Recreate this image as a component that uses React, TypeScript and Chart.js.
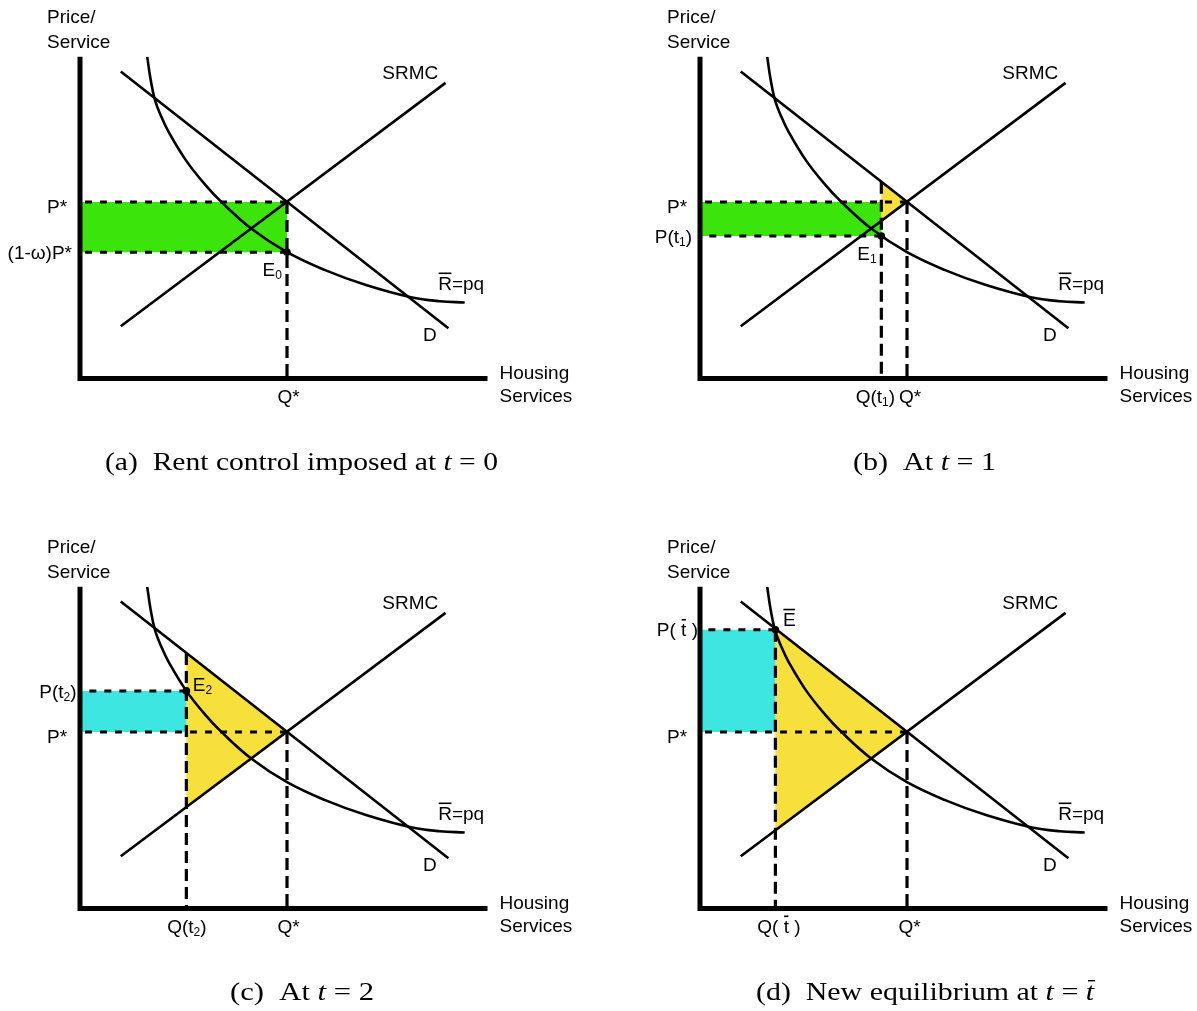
import React, { useEffect, useRef } from 'react';
import { Chart, registerables } from 'chart.js';

Chart.register(...registerables);

type Pt = { x: number; y: number };
type Part = { t: string; sub?: boolean; bar?: boolean; italic?: boolean };

// Demand (D) and short-run marginal cost (SRMC) lines, given by their end points
const demandLine: Pt[] = [
  { x: 1.0, y: 7.63 },
  { x: 9.04, y: 1.25 },
];
const srmcLine: Pt[] = [
  { x: 1.0, y: 1.3 },
  { x: 8.97, y: 7.35 },
];
// Constant-revenue curve  R̄ = pq
const revenueCurve: Pt[] = [
  { x: 1.65, y: 8.0 },
  { x: 1.73, y: 7.45 },
  { x: 1.84, y: 6.92 },
  { x: 2.0, y: 6.5 },
  { x: 2.17, y: 6.14 },
  { x: 2.61, y: 5.41 },
  { x: 3.07, y: 4.82 },
  { x: 3.47, y: 4.39 },
  { x: 4.2, y: 3.73 },
  { x: 5.08, y: 3.14 },
  { x: 6.0, y: 2.7 },
  { x: 7.0, y: 2.33 },
  { x: 8.12, y: 2.02 },
  { x: 8.83, y: 1.92 },
  { x: 9.44, y: 1.89 },
];

// Market equilibrium and the controlled price (1-ω)P*
const qStar = 5.08;
const pStar = 4.39;
const pControlled = 3.14;
// Adjustment path
const qT1 = 4.45;
const pT1 = 3.54;
const qT2 = 2.61;
const pT2 = 5.41;
const qBar = 1.85;
const pBar = 6.93;

const xMax = 10;
const yMax = 8;

const GREEN = '#3be40b';
const CYAN = '#3ee6e2';
const YELLOW = '#f7e03b';

const SANS = '"Liberation Sans", Arial, Helvetica, sans-serif';
const SERIF = '"Liberation Serif", "Times New Roman", serif';

// plot frame inside each panel canvas
const FRAME = { left: 80, top: 56.7, right: 487.5, bottom: 378.5 };
const CAPTION_BASELINE = 470;

interface TextStyle {
  size: number;
  family: string;
  subSize: number;
  subDrop: number;
  barRise: number;
  barW: number;
}
const SANS_STYLE: TextStyle = { size: 19, family: SANS, subSize: 12, subDrop: 3, barRise: 17.5, barW: 1.6 };
const SERIF_STYLE: TextStyle = { size: 26, family: SERIF, subSize: 17, subDrop: 4, barRise: 20, barW: 1.4 };

interface Shade { pts: Pt[]; color: string }
interface Label { parts: Part[]; at: Pt; dx: number; dy: number; align: 'left' | 'right' | 'center' }
interface PanelCfg {
  key: string;
  left: number;
  top: number;
  w: number;
  h: number;
  shades: Shade[];
  hDash: Pt[];
  vDash: Pt[];
  dot: Pt;
  labels: Label[];
  caption: Part[];
  capX: number;
  capW: number;
}

const lineAt = (seg: Pt[], q: number) =>
  seg[0].y + ((seg[1].y - seg[0].y) * (q - seg[0].x)) / (seg[1].x - seg[0].x);

const rect = (q: number, pLow: number, pHigh: number): Pt[] => [
  { x: 0, y: pLow },
  { x: q, y: pLow },
  { x: q, y: pHigh },
  { x: 0, y: pHigh },
];

// area between D and SRMC from quantity q up to the equilibrium
const wedge = (q: number): Pt[] => [
  { x: q, y: lineAt(demandLine, q) },
  { x: qStar, y: pStar },
  { x: q, y: lineAt(srmcLine, q) },
];

const commonLabels: Label[] = [
  { parts: [{ t: 'Price/' }], at: { x: 0, y: yMax }, dx: -33, dy: -33.4, align: 'left' },
  { parts: [{ t: 'Service' }], at: { x: 0, y: yMax }, dx: -33, dy: -9, align: 'left' },
  { parts: [{ t: 'SRMC' }], at: { x: 7.42, y: 7.45 }, dx: 0, dy: 0, align: 'left' },
  { parts: [{ t: 'R', bar: true }, { t: '=pq' }], at: { x: 8.79, y: 2.2 }, dx: 0, dy: 0, align: 'left' },
  { parts: [{ t: 'D' }], at: { x: 8.42, y: 0.93 }, dx: 0, dy: 0, align: 'left' },
  { parts: [{ t: 'Housing' }], at: { x: xMax, y: 0 }, dx: 12, dy: 0.5, align: 'left' },
  { parts: [{ t: 'Services' }], at: { x: xMax, y: 0 }, dx: 12, dy: 23.5, align: 'left' },
];

const pStarLabel: Label = { parts: [{ t: 'P*' }], at: { x: 0, y: pStar }, dx: -33, dy: 10.8, align: 'left' };
const qStarLabel = (dx: number): Label => ({ parts: [{ t: 'Q*' }], at: { x: qStar, y: 0 }, dx, dy: 24.5, align: 'center' });

const panels: PanelCfg[] = [
  {
    key: 'a',
    left: 0,
    top: 0,
    w: 620,
    h: 530,
    shades: [{ pts: rect(qStar, pControlled, pStar), color: GREEN }],
    hDash: [{ x: qStar, y: pStar }, { x: qStar, y: pControlled }],
    vDash: [{ x: qStar, y: pStar }],
    dot: { x: qStar, y: pControlled },
    labels: [
      pStarLabel,
      { parts: [{ t: '(1-ω)P*' }], at: { x: 0, y: pControlled }, dx: -8, dy: 6.5, align: 'right' },
      qStarLabel(1.5),
      { parts: [{ t: 'E' }, { t: '0', sub: true }], at: { x: qStar, y: pControlled }, dx: -24.5, dy: 24, align: 'left' },
    ],
    caption: [{ t: '(a)\u2002Rent control imposed at ' }, { t: 't', italic: true }, { t: ' = 0' }],
    capX: 301.5,
    capW: 393,
  },
  {
    key: 'b',
    left: 620,
    top: 0,
    w: 577,
    h: 530,
    shades: [
      { pts: rect(qT1, pT1, pStar), color: GREEN },
      { pts: wedge(qT1), color: YELLOW },
    ],
    hDash: [{ x: qStar, y: pStar }, { x: qT1, y: pT1 }],
    vDash: [{ x: qT1, y: lineAt(demandLine, qT1) }, { x: qStar, y: pStar }],
    dot: { x: qT1, y: pT1 },
    labels: [
      pStarLabel,
      { parts: [{ t: 'P(t' }, { t: '1', sub: true }, { t: ')' }], at: { x: 0, y: pT1 }, dx: -8, dy: 7, align: 'right' },
      { parts: [{ t: 'Q(t' }, { t: '1', sub: true }, { t: ')' }], at: { x: qT1, y: 0 }, dx: -6, dy: 24.5, align: 'center' },
      qStarLabel(3),
      { parts: [{ t: 'E' }, { t: '1', sub: true }], at: { x: qT1, y: pT1 }, dx: -24, dy: 24, align: 'left' },
    ],
    caption: [{ t: '(b)\u2002At ' }, { t: 't', italic: true }, { t: ' = 1' }],
    capX: 304.5,
    capW: 143,
  },
  {
    key: 'c',
    left: 0,
    top: 530,
    w: 620,
    h: 481,
    shades: [
      { pts: rect(qT2, pStar, pT2), color: CYAN },
      { pts: wedge(qT2), color: YELLOW },
    ],
    hDash: [{ x: qT2, y: pT2 }, { x: qStar, y: pStar }],
    vDash: [{ x: qT2, y: lineAt(demandLine, qT2) }, { x: qStar, y: pStar }],
    dot: { x: qT2, y: pT2 },
    labels: [
      { parts: [{ t: 'P(t' }, { t: '2', sub: true }, { t: ')' }], at: { x: 0, y: pT2 }, dx: -3.5, dy: 6.7, align: 'right' },
      { ...pStarLabel, dy: 11 },
      { parts: [{ t: 'Q(t' }, { t: '2', sub: true }, { t: ')' }], at: { x: qT2, y: 0 }, dx: 0.5, dy: 24.5, align: 'center' },
      qStarLabel(1.5),
      { parts: [{ t: 'E' }, { t: '2', sub: true }], at: { x: qT2, y: pT2 }, dx: 6.5, dy: 0, align: 'left' },
    ],
    caption: [{ t: '(c)\u2002At ' }, { t: 't', italic: true }, { t: ' = 2' }],
    capX: 302,
    capW: 144,
  },
  {
    key: 'd',
    left: 620,
    top: 530,
    w: 577,
    h: 481,
    shades: [
      { pts: rect(qBar, pStar, pBar), color: CYAN },
      { pts: wedge(qBar), color: YELLOW },
    ],
    hDash: [{ x: qBar, y: pBar }, { x: qStar, y: pStar }],
    vDash: [{ x: qBar, y: pBar }, { x: qStar, y: pStar }],
    dot: { x: qBar, y: pBar },
    labels: [
      { parts: [{ t: 'P( ' }, { t: 't', bar: true }, { t: ' )' }], at: { x: 0, y: pBar }, dx: -2, dy: 6.7, align: 'right' },
      { ...pStarLabel, dy: 11 },
      { parts: [{ t: 'Q( ' }, { t: 't', bar: true }, { t: ' )' }], at: { x: qBar, y: 0 }, dx: 3.5, dy: 24.5, align: 'center' },
      qStarLabel(2.5),
      { parts: [{ t: 'E', bar: true }], at: { x: qBar, y: pBar }, dx: 7.5, dy: -3.5, align: 'left' },
    ],
    caption: [
      { t: '(d)\u2002New equilibrium at ' },
      { t: 't', italic: true },
      { t: ' = ' },
      { t: 't', italic: true, bar: true },
    ],
    capX: 305,
    capW: 338,
  },
];

function partFont(p: Part, s: TextStyle) {
  return `${p.italic ? 'italic ' : ''}${p.sub ? s.subSize : s.size}px ${s.family}`;
}

function measureRich(ctx: CanvasRenderingContext2D, parts: Part[], s: TextStyle) {
  let w = 0;
  for (const p of parts) {
    ctx.font = partFont(p, s);
    w += ctx.measureText(p.t).width;
  }
  return w;
}

function drawRich(
  ctx: CanvasRenderingContext2D,
  parts: Part[],
  x: number,
  y: number,
  align: 'left' | 'right' | 'center',
  s: TextStyle,
) {
  const w = measureRich(ctx, parts, s);
  let cx = align === 'left' ? x : align === 'right' ? x - w : x - w / 2;
  ctx.textAlign = 'left';
  ctx.textBaseline = 'alphabetic';
  for (const p of parts) {
    ctx.font = partFont(p, s);
    const pw = ctx.measureText(p.t).width;
    ctx.fillText(p.t, cx, p.sub ? y + s.subDrop : y);
    if (p.bar) {
      const shift = p.italic ? 1.5 : 0;
      ctx.fillRect(cx + 0.5 + shift, y - s.barRise, pw - 1, s.barW);
    }
    cx += pw;
  }
}

function buildChart(canvas: HTMLCanvasElement, cfg: PanelCfg) {
  const shadeSets = cfg.shades.map((s) => ({
    data: s.pts,
    fill: 'shape' as const,
    backgroundColor: s.color,
    borderColor: 'rgba(0,0,0,0)',
    borderWidth: 0,
    pointRadius: 0,
    order: 4,
  }));
  const curve = (data: Pt[], extra: object = {}) => ({
    data,
    borderColor: '#000',
    borderWidth: 2.6,
    pointRadius: 0,
    fill: false,
    order: 3,
    ...extra,
  });
  const hDashSets = cfg.hDash.map((p) => ({
    data: [p, { x: 0, y: p.y }],
    borderColor: '#000',
    borderWidth: 3,
    borderDash: [7, 8],
    borderCapStyle: 'butt' as const,
    pointRadius: 0,
    fill: false,
    order: 2,
  }));
  const vDashSets = cfg.vDash.map((p) => ({
    data: [p, { x: p.x, y: 0 }],
    borderColor: '#000',
    borderWidth: 3.2,
    borderDash: [12, 6],
    borderCapStyle: 'butt' as const,
    pointRadius: 0,
    fill: false,
    order: 2,
  }));
  const dotSet = {
    data: [cfg.dot],
    showLine: false,
    pointRadius: 3.8,
    pointBackgroundColor: '#000',
    pointBorderWidth: 0,
    fill: false,
    order: 1,
  };

  const decor = {
    id: 'decor-' + cfg.key,
    afterDatasetsDraw(chart: Chart) {
      const { ctx, chartArea: a } = chart;
      ctx.save();
      ctx.strokeStyle = '#000';
      ctx.lineWidth = 5;
      ctx.lineCap = 'butt';
      ctx.setLineDash([]);
      ctx.beginPath();
      ctx.moveTo(a.left, a.top);
      ctx.lineTo(a.left, a.bottom + 2.5);
      ctx.moveTo(a.left - 2.5, a.bottom);
      ctx.lineTo(a.right, a.bottom);
      ctx.stroke();
      ctx.restore();
    },
    afterDraw(chart: Chart) {
      const { ctx } = chart;
      const xs = chart.scales.x;
      const ys = chart.scales.y;
      ctx.save();
      ctx.fillStyle = '#000';
      for (const l of [...commonLabels, ...cfg.labels]) {
        drawRich(ctx, l.parts, xs.getPixelForValue(l.at.x) + l.dx, ys.getPixelForValue(l.at.y) + l.dy, l.align, SANS_STYLE);
      }
      // sub-figure caption
      const natural = measureRich(ctx, cfg.caption, SERIF_STYLE);
      ctx.translate(cfg.capX, CAPTION_BASELINE);
      ctx.scale(cfg.capW / natural, 1);
      drawRich(ctx, cfg.caption, -natural / 2, 0, 'left', SERIF_STYLE);
      ctx.restore();
    },
  };

  return new Chart(canvas, {
    type: 'line',
    data: {
      datasets: [
        ...shadeSets,
        curve(demandLine),
        curve(srmcLine),
        curve(revenueCurve, { tension: 0.4, cubicInterpolationMode: 'default' }),
        ...hDashSets,
        ...vDashSets,
        dotSet,
      ] as any,
    },
    options: {
      responsive: false,
      animation: false,
      events: [],
      layout: {
        padding: {
          left: FRAME.left,
          top: FRAME.top,
          right: cfg.w - FRAME.right,
          bottom: cfg.h - FRAME.bottom,
        },
      },
      scales: {
        x: { type: 'linear', min: 0, max: xMax, display: false },
        y: { type: 'linear', min: 0, max: yMax, display: false },
      },
      plugins: {
        legend: { display: false },
        tooltip: { enabled: false },
      },
    },
    plugins: [decor as any],
  });
}

function Panel({ cfg }: { cfg: PanelCfg }) {
  const ref = useRef<HTMLCanvasElement>(null);
  useEffect(() => {
    const canvas = ref.current;
    if (!canvas) return;
    const chart = buildChart(canvas, cfg);
    return () => chart.destroy();
  }, [cfg]);
  return (
    <canvas
      ref={ref}
      width={cfg.w}
      height={cfg.h}
      style={{ position: 'absolute', left: cfg.left, top: cfg.top, width: cfg.w, height: cfg.h }}
    />
  );
}

export default function App() {
  return (
    <div style={{ position: 'absolute', left: 0, top: 0, width: 1197, height: 1011, background: '#fff', overflow: 'hidden' }}>
      {panels.map((p) => (
        <Panel key={p.key} cfg={p} />
      ))}
    </div>
  );
}
